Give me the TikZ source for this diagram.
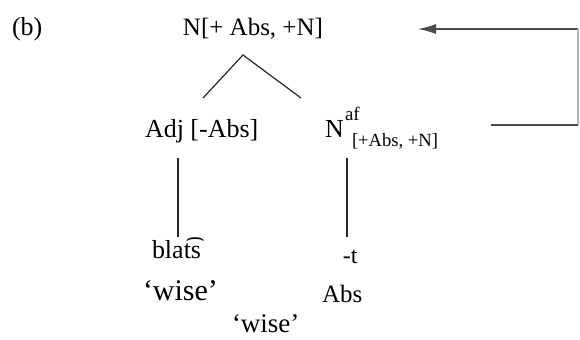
\documentclass[tikz,border=0pt]{standalone}
\usepackage{fontspec}
\setmainfont{Liberation Serif}
\usetikzlibrary{arrows.meta}
\newcommand{\fs}[1]{\fontsize{#1}{#1}\selectfont}
\tikzset{
  lbl/.style={anchor=base west, inner sep=0pt, outer sep=0pt},
  branch/.style={line width=0.6pt, black!85},
  rule/.style={line width=0.6pt, black!70},
}
\begin{document}
\begin{tikzpicture}[x=0.5pt, y=-0.5pt]
\useasboundingbox (0,0) rectangle (580,339);
% labels
\node[lbl, font=\fs{13}] (b) at (12,35) {(b)};
\node[lbl, font=\fs{12.5}] (top) at (183,35) {N[+ Abs, +N]};
\node[lbl, font=\fs{13}] (adj) at (145,137) {Adj [-Abs]};
\node[lbl, font=\fs{13}] (naf) at (325,137) {N};
\node[lbl, font=\fs{9.5}] (sup) at (345,120) {af};
\node[lbl, font=\fs{9.3}] (sub) at (352,146) {[+Abs, +N]};
\node[lbl, font=\fs{13}] (blats) at (152,258) {blat͡s};
\node[lbl, font=\fs{12}] (t) at (343,263) {-t};
\node[lbl, font=\fs{15}] (wise1) at (143,300) {‘wise’};
\node[lbl, font=\fs{12.5}] (abs) at (322,302) {Abs};
\node[lbl, font=\fs{13.5}] (wise2) at (232,332) {‘wise’};
% tree branches
\coordinate (apex) at (243,55);
\coordinate (legL) at (203,98);
\coordinate (legR) at (301,98);
\draw[branch] (legL) -- (apex) -- (legR);
\coordinate (v1t) at (178,158);
\coordinate (v1b) at (178,237);
\coordinate (v2t) at (347,158);
\coordinate (v2b) at (347,237);
\draw[branch] (v1t) -- (v1b);
\draw[branch] (v2t) -- (v2b);
% right-hand bracket arrow
\coordinate (atip) at (418,29);
\coordinate (c1) at (578,29);
\coordinate (c2) at (578,125);
\coordinate (c3) at (491,125);
\draw[rule, -{Latex[length=9pt,width=5pt]}] (c1) -- (atip);
\draw[rule, black!30] (c1) -- (c2);
\draw[rule] (c2) -- (c3);
\end{tikzpicture}
\end{document}
